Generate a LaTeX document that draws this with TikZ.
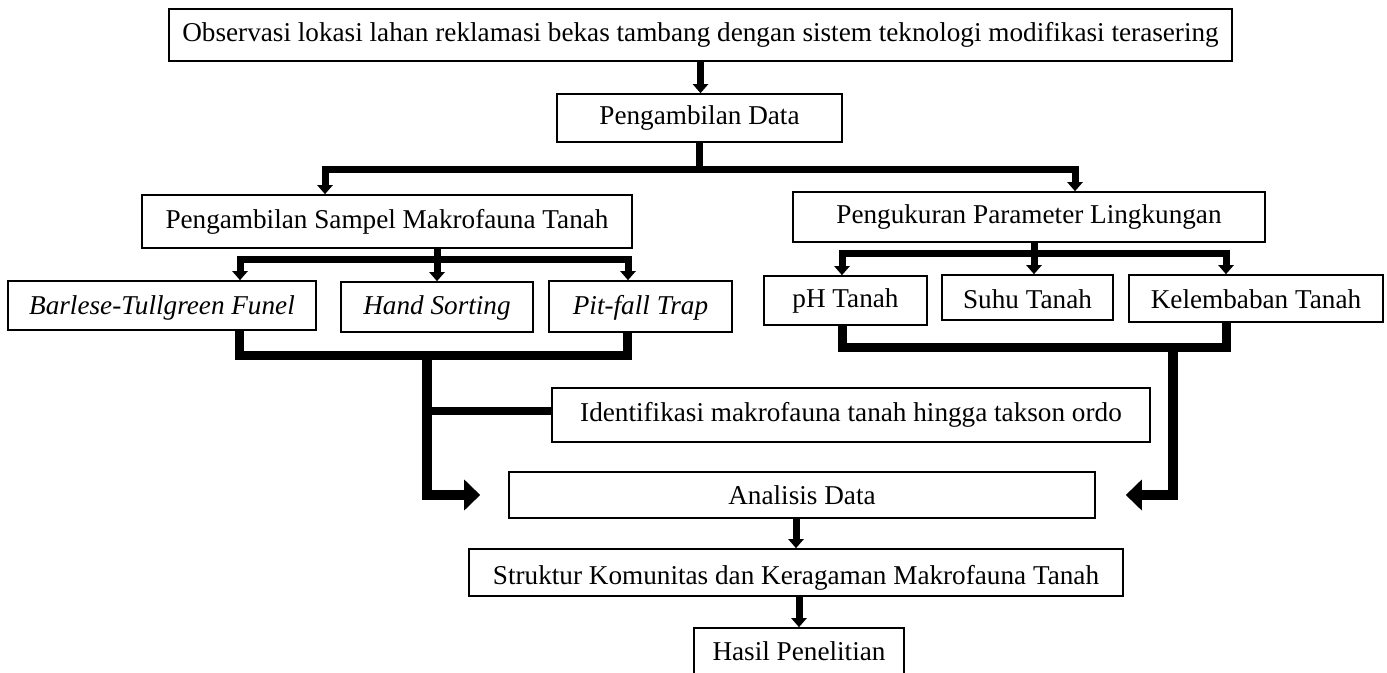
\documentclass[tikz,border=0pt]{standalone}
\usepackage{fontspec}
\setmainfont{Liberation Serif}
\usetikzlibrary{arrows.meta}
\begin{document}
\begin{tikzpicture}[x=0.5pt,y=-0.5pt,
  box/.style={draw, line width=0.8pt, inner sep=0pt, anchor=center,
    font=\fontsize{13.6}{15}\selectfont, text height=0.662em, text depth=0pt},
  lnS/.style={line width=3.5pt, line join=miter},
  lnB/.style={line width=4.5pt, line join=miter},
  lnM/.style={line width=4pt},
  arrS/.style={lnS, -{Triangle[width=7.5pt,length=4.5pt]}},
  arrB/.style={line width=5pt, line join=miter, -{Triangle[width=15pt,length=8pt]}}
]
\useasboundingbox (0,0) rectangle (1387,673);
\clip (0,0) rectangle (1387,673);

% boxes (sizes in pt = half of pixel sizes)
\node[box, minimum width=531.5pt, minimum height=26pt] (obs) at (700.5,35) {Observasi lokasi lahan reklamasi bekas tambang dengan sistem teknologi modifikasi terasering};
\node[box, minimum width=142.5pt, minimum height=24pt] (pd) at (699.5,118) {Pengambilan Data};
\node[box, minimum width=245pt, minimum height=26.5pt] (psmt) at (387,221.5) {Pengambilan Sampel Makrofauna Tanah};
\node[box, minimum width=236pt, minimum height=25pt] (pp) at (1029,217) {Pengukuran Parameter Lingkungan};
\node[box, minimum width=154pt, minimum height=24.5pt] (bar) at (162,305.5) {\raisebox{-1pt}{\itshape Barlese-Tullgreen Funel}};
\node[box, minimum width=96pt, minimum height=25pt] (hand) at (437,307) {\raisebox{-0.5pt}{\itshape Hand Sorting}};
\node[box, minimum width=91.5pt, minimum height=25.5pt] (pit) at (640.5,306.5) {\raisebox{-0.5pt}{\itshape Pit-fall Trap}};
\node[box, minimum width=81.5pt, minimum height=24.5pt] (ph) at (845.5,300.5) {pH Tanah};
\node[box, minimum width=85.5pt, minimum height=22.5pt] (suhu) at (1027.5,297.5) {\raisebox{-2pt}{Suhu Tanah}};
\node[box, minimum width=127pt, minimum height=23.5pt] (kel) at (1256,298.5) {\raisebox{-1.5pt}{Kelembaban Tanah}};
\node[box, minimum width=299pt, minimum height=27pt] (ident) at (851,415) {Identifikasi makrofauna tanah hingga takson ordo};
\node[box, minimum width=293pt, minimum height=23pt] (anal) at (802,495) {\raisebox{-1.5pt}{Analisis Data}};
\node[box, minimum width=327pt, minimum height=23.5pt] (strk) at (796,572.5) {\raisebox{-2.5pt}{Struktur Komunitas dan Keragaman Makrofauna Tanah}};
\node[box, minimum width=105pt, minimum height=31pt] (hasil) at (799,659) {\raisebox{2.5pt}{Hasil Penelitian}};

% junction coordinates
\coordinate (k1) at (325,170);
\coordinate (k2) at (1075,170);
\coordinate (m0) at (437,260);
\coordinate (m1) at (240,260);
\coordinate (m2) at (628,260);
\coordinate (n0) at (1034,254);
\coordinate (n1) at (842,254);
\coordinate (n2) at (1226,254);
\coordinate (b1) at (239,356);
\coordinate (b2) at (627,356);
\coordinate (t0) at (427,356);
\coordinate (r1) at (842,348);
\coordinate (r2) at (1226,348);
\coordinate (r0) at (1173,348);

% connectors
\draw[arrS] (obs.south) -- (obs.south |- pd.north);
\draw[arrS] (pd.south) |- (k1) -- (k1 |- psmt.north);
\draw[arrS] (pd.south) |- (k2) -- (k2 |- pp.north);

\draw[arrS] (psmt.south -| m0) |- (m1) -- (m1 |- bar.north);
\draw[arrS] (psmt.south -| m0) |- (m2) -- (m2 |- pit.north);
\draw[arrS] (psmt.south -| m0) -- (m0 |- hand.north);

\draw[arrS] (pp.south -| n0) |- (n1) -- (n1 |- ph.north);
\draw[arrS] (pp.south -| n0) |- (n2) -- (n2 |- kel.north);
\draw[arrS] (pp.south -| n0) -- (n0 |- suhu.north);

\draw[lnB] (bar.south -| b1) -- (b1) -- (b2) -- (pit.south -| b2);
\draw[lnM] ([yshift=2pt]ident.west -| t0) -- ([yshift=2pt]ident.west);
\draw[arrB] (t0) |- ([xshift=-14pt]anal.west);

\draw[lnB] (ph.south -| r1) -- (r1) -- (r2) -- (kel.south -| r2);
\draw[arrB] (r0) |- ([xshift=15pt]anal.east);

\draw[arrS] (anal.south -| strk.north) -- (strk.north);
\draw[arrS] (strk.south -| hasil.north) -- (hasil.north);
\end{tikzpicture}
\end{document}
